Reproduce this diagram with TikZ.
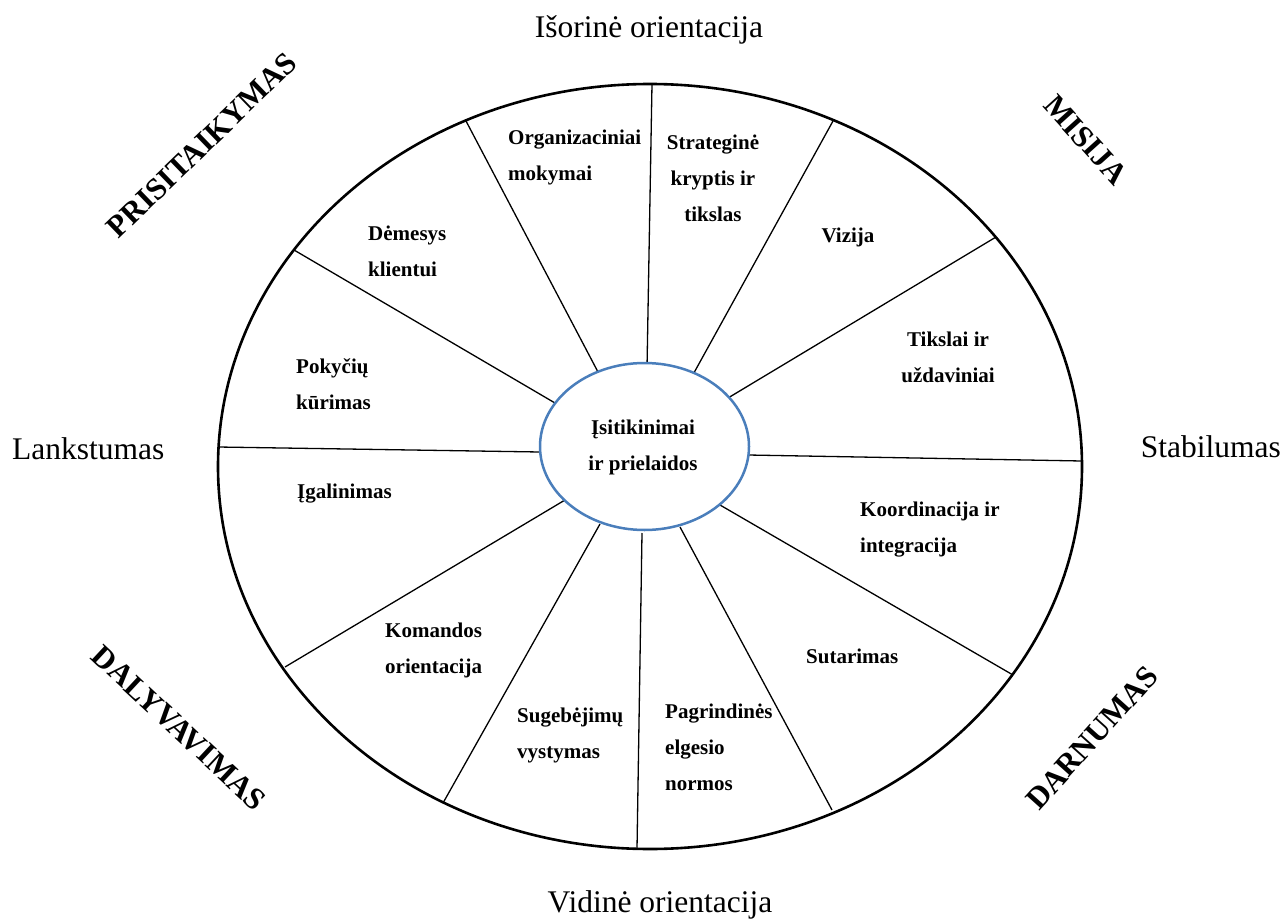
\documentclass[tikz,border=0pt]{standalone}
\usepackage{fontspec}
\setmainfont{Liberation Serif}
\usetikzlibrary{shapes.geometric}
\definecolor{ringblue}{RGB}{74,126,187}
\tikzset{
  lbl/.style={inner sep=0pt, font=\fontsize{21}{36}\selectfont\bfseries, align=left, anchor=west},
  clbl/.style={inner sep=0pt, font=\fontsize{21}{36}\selectfont\bfseries, align=center},
  axis/.style={inner sep=0pt, font=\fontsize{31.5}{36}\selectfont},
  corner/.style={inner sep=0pt, font=\fontsize{31}{36}\selectfont\bfseries},
  spoke/.style={draw=black, line width=1.3pt},
}
\begin{document}
\begin{tikzpicture}[x=1pt,y=-1pt]
\useasboundingbox (0,0) rectangle (1282,923);
% outer and inner ellipses
\node[ellipse, draw=black, line width=2.6pt, minimum width=864pt, minimum height=765pt, inner sep=0pt] (outer) at (650,466.5) {};
% spoke end points
\coordinate (o1) at (652,84);   \coordinate (i1) at (647,368);
\coordinate (o2) at (833,121);  \coordinate (i2) at (690,380);
\coordinate (o3) at (996,237);  \coordinate (i3) at (728,398);
\coordinate (o4) at (1082,461); \coordinate (i4) at (748,455);
\coordinate (o5) at (1013,675); \coordinate (i5) at (720,505);
\coordinate (o6) at (832,810);  \coordinate (i6) at (680,527);
\coordinate (o7) at (637,849);  \coordinate (i7) at (642,533);
\coordinate (o8) at (443,803);  \coordinate (i8) at (600,524);
\coordinate (o9) at (285,667);  \coordinate (i9) at (565,500);
\coordinate (o10) at (218,447); \coordinate (i10) at (540,452);
\coordinate (o11) at (294,250); \coordinate (i11) at (555,403);
\coordinate (o12) at (466,121); \coordinate (i12) at (598,372);
\foreach \k in {1,...,12} { \draw[spoke] (i\k) -- (o\k); }
\node[ellipse, draw=ringblue, fill=white, line width=2.5pt, minimum width=209pt, minimum height=167pt, inner sep=0pt] (core) at (644.5,446.5) {};
\node[clbl] (coretext) at (643,447) {Įsitikinimai\\ir prielaidos};
% sector labels
\node[lbl] (org) at (508,157.5) {Organizaciniai\\mokymai};
\node[clbl] (strat) at (713,178) {Strateginė\\kryptis ir\\tikslas};
\node[clbl] (viz) at (848,237) {Vizija};
\node[clbl] (tiks) at (948,357) {Tikslai ir\\uždaviniai};
\node[lbl] (koord) at (860,529.5) {Koordinacija ir\\integracija};
\node[lbl] (sut) at (806,656) {Sutarimas};
\node[lbl] (pagr) at (665,747) {Pagrindinės\\elgesio\\normos};
\node[lbl] (sug) at (517,735.5) {Sugebėjimų\\vystymas};
\node[lbl] (kom) at (385,650) {Komandos\\orientacija};
\node[lbl] (igal) at (297,494) {Įgalinimas};
\node[lbl] (pok) at (296,384.5) {Pokyčių\\kūrimas};
\node[lbl] (dem) at (368,251.5) {Dėmesys\\klientui};
% axis labels
\node[axis] (top) at (649,30) {Išorinė orientacija};
\node[axis] (bottom) at (660,905) {Vidinė orientacija};
\node[axis, anchor=west] (left) at (12,449) {Lankstumas};
\node[axis, anchor=east] (right) at (1281,447) {Stabilumas};
% corner labels
\node[corner, rotate=44] (prisi) at (202,145) {PRISITAIKYMAS};
\node[corner, rotate=-48] (misija) at (1086,140) {MISIJA};
\node[corner, rotate=-43] (daly) at (179,728) {DALYVAVIMAS};
\node[corner, rotate=48] (darn) at (1092,738) {DARNUMAS};
\end{tikzpicture}
\end{document}
